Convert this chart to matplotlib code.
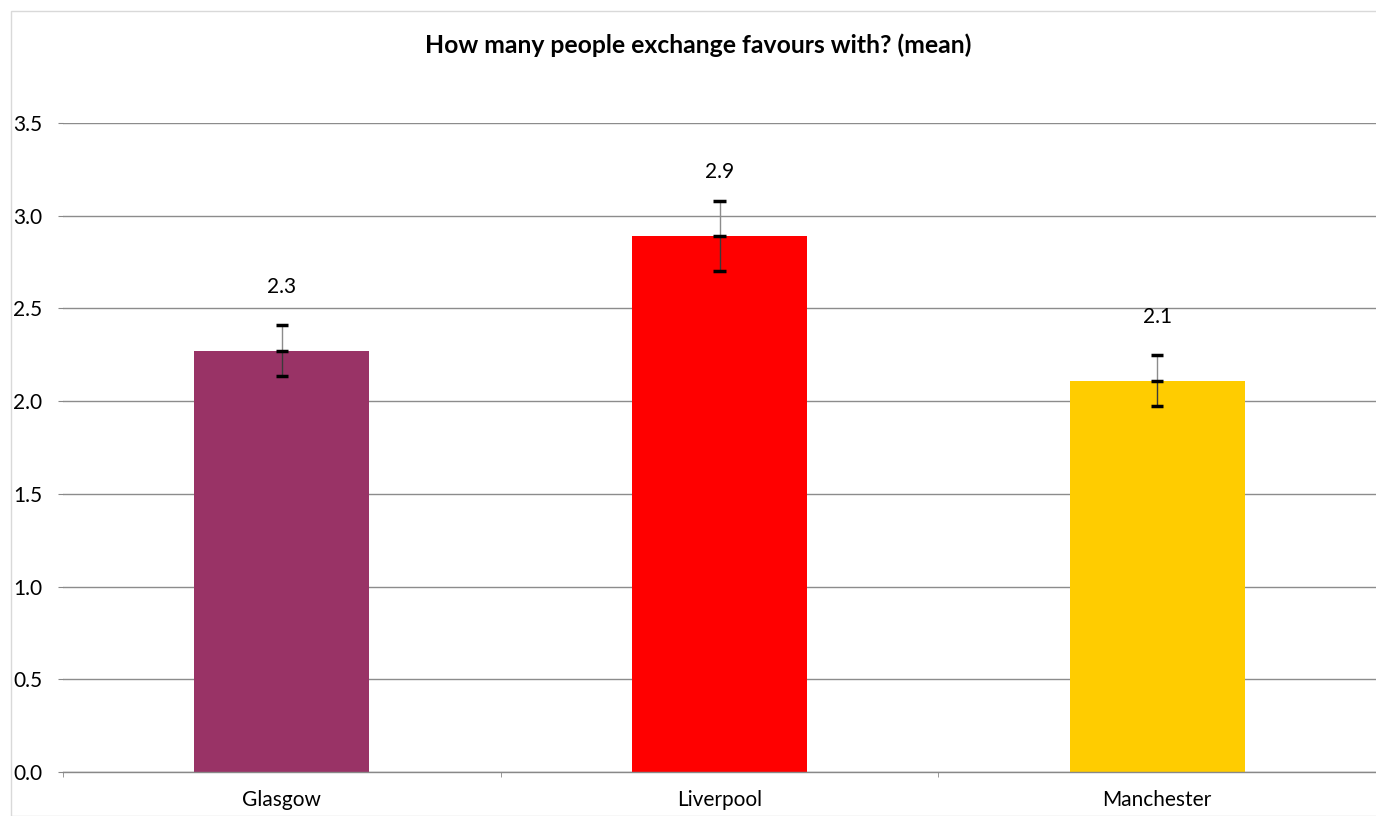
import matplotlib
matplotlib.use("Agg")
import matplotlib.pyplot as plt
from matplotlib.patches import Rectangle

categories = ["Glasgow", "Liverpool", "Manchester"]
means = [2.27, 2.89, 2.11]
labels = ["2.3", "2.9", "2.1"]
upper = [2.41, 3.08, 2.25]
lower = [2.135, 2.70, 1.975]
colors = ["#993366", "#FF0000", "#FFCC00"]
yticks = [0.0, 0.5, 1.0, 1.5, 2.0, 2.5, 3.0, 3.5]

plt.rcParams['font.family'] = ['Lato', 'DejaVu Sans']

W, H = 1376, 816
fig = plt.figure(figsize=(W/100, H/100), dpi=100)
fig.patches.append(Rectangle((11/W, 0), 1.2, (H-11)/H, transform=fig.transFigure,
                             fill=False, edgecolor="#D9D9D9", linewidth=1.0))
ax = fig.add_axes([63/W, (H-772)/H, (1376-63)/W, (772-123)/H])

x = list(range(len(categories)))
ax.bar(x, means, width=0.4, color=colors, zorder=2)
for i in x:
    ax.plot([i, i], [means[i], upper[i]], color="#8C8C8C", lw=1.0, zorder=3)
    ax.plot([i, i], [lower[i], means[i]], color="#3A3A3A", lw=1.0, zorder=3)
    for v in (upper[i], means[i], lower[i]):
        ax.plot([i - 0.014, i + 0.014], [v, v], color="black", lw=2.5,
                solid_capstyle="butt", zorder=4)
    ax.annotate(labels[i], (i, means[i]), xytext=(0, 46), textcoords="offset points",
                ha="center", va="center", fontsize=15)

ax.set_xlim(-0.5, 2.5)
ax.set_ylim(0, 3.5)
ax.set_yticks(yticks)
ax.set_yticklabels([f"{t:.1f}" for t in yticks], fontsize=15)
ax.set_xticks(x)
ax.set_xticklabels(categories, fontsize=15)
ax.tick_params(axis="x", length=0, pad=13)
ax.tick_params(axis="y", length=3.6, color="#888888", pad=11.5)
ax.set_xticks([-0.5, 0.5, 1.5, 2.5], minor=True)
ax.tick_params(axis="x", which="minor", length=3.6, color="#888888")
ax.grid(axis="y", color="#8C8C8C", lw=1.0, zorder=0)
ax.set_axisbelow(True)
for s in ["top", "right", "left"]:
    ax.spines[s].set_visible(False)
ax.spines["bottom"].set_color("#888888")
ax.spines["bottom"].set_linewidth(1.0)

fig.text(698/W, 1 - 45/H, "How many people exchange favours with? (mean)",
         ha="center", va="center", fontsize=17.8, fontweight="bold")

fig.savefig("out.png", dpi=100)
